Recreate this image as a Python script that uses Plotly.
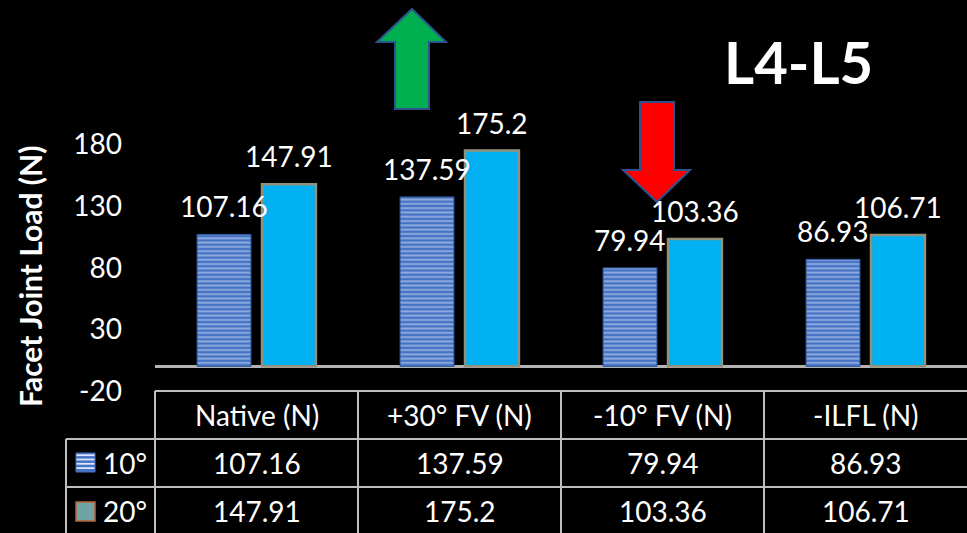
import plotly.graph_objects as go

# ---- data ----
categories = ["Native (N)", "+30° FV (N)", "-10° FV (N)", "-ILFL (N)"]
series_names = ["10°", "20°"]
load_10 = [107.16, 137.59, 79.94, 86.93]
load_20 = [147.91, 175.2, 103.36, 106.71]
y_ticks = [180, 130, 80, 30, -20]

# ---- canvas geometry (pixels) ----
W, H = 967, 533
PLOT_X0, PLOT_X1 = 155, 967
Y_BOTTOM_PX, Y_TOP_PX = 391, 120          # pixel rows for y = -20 and y = 200
TABLE_TOP, ROW1, ROW2, TABLE_BOT = 391, 439, 487, 535
LEGEND_X0 = 66
FONT = "Lato"
TEXT_SIZE = 28
WHITE = "#FFFFFF"
GRID = "#BFBFBF"


def px(x):
    return x / W


def py(y):
    return 1 - y / H


col_w = (PLOT_X1 - PLOT_X0) / len(categories)

fig = go.Figure()

fig.add_trace(go.Bar(
    x=categories, y=load_10, name=series_names[0],
    marker=dict(
        color="#4472C4",
        pattern=dict(shape="-", fgcolor="#DCE6F7", bgcolor="#4472C4",
                     size=4.3, solidity=0.45, fillmode="overlay"),
        line=dict(color="#2F5597", width=1),
    ),
    showlegend=False, hoverinfo="skip",
))
fig.add_trace(go.Bar(
    x=categories, y=load_20, name=series_names[1],
    marker=dict(color="#00B0F0", line=dict(color="#93907C", width=2.5)),
    showlegend=False, hoverinfo="skip",
))

annotations = []
shapes = []


def label(x, y, text, size=TEXT_SIZE, **kw):
    annotations.append(dict(
        x=x, y=y, xref="paper", yref="paper", xanchor=kw.pop("xanchor", "center"),
        yanchor="middle", showarrow=False, text=text,
        font=dict(family=FONT, size=size, color=WHITE), **kw,
    ))


# value labels above each bar
bar_offset = 32.5
for series, shift in ((load_10, -bar_offset), (load_20, bar_offset)):
    for cat, val in zip(categories, series):
        annotations.append(dict(
            x=cat, y=val, xref="x", yref="y", xshift=shift, yshift=9,
            xanchor="center", yanchor="bottom", showarrow=False, text=f"{val:g}",
            font=dict(family=FONT, size=TEXT_SIZE, color=WHITE),
        ))

# data table: header row with category names
for i, cat in enumerate(categories):
    cx = PLOT_X0 + col_w * (i + 0.5)
    label(px(cx), py((TABLE_TOP + ROW1) / 2), cat)

# data table: value rows
for r, (name, series) in enumerate(zip(series_names, (load_10, load_20))):
    top = ROW1 if r == 0 else ROW2
    bot = ROW2 if r == 0 else TABLE_BOT
    cy = (top + bot) / 2
    label(px(101), py(cy), name, xanchor="left")
    for i, val in enumerate(series):
        cx = PLOT_X0 + col_w * (i + 0.5)
        label(px(cx), py(cy), f"{val:g}")


# table grid lines
def hline(y, x0, x1):
    shapes.append(dict(type="line", xref="paper", yref="paper",
                       x0=px(x0), x1=px(x1), y0=py(y), y1=py(y),
                       line=dict(color=GRID, width=2)))


def vline(x, y0, y1):
    shapes.append(dict(type="line", xref="paper", yref="paper",
                       x0=px(x), x1=px(x), y0=py(y0), y1=py(y1),
                       line=dict(color=GRID, width=2)))


hline(TABLE_TOP, PLOT_X0, W + 2)
hline(ROW1, LEGEND_X0, W + 2)
hline(ROW2, LEGEND_X0, W + 2)
vline(LEGEND_X0, ROW1, H + 2)
for i in range(len(categories)):
    vline(PLOT_X0 + col_w * i, TABLE_TOP, H + 2)

# legend keys inside the table
k0, k1 = 76, 95
shapes.append(dict(type="rect", xref="paper", yref="paper",
                   x0=px(k0), x1=px(k1), y0=py(472), y1=py(453),
                   fillcolor="#4472C4", line=dict(color="#4472C4", width=1)))
yy = 455.2
while yy < 471:
    shapes.append(dict(type="line", xref="paper", yref="paper",
                       x0=px(k0 + 0.5), x1=px(k1 - 0.5), y0=py(yy), y1=py(yy),
                       line=dict(color="#DCE6F7", width=1.8)))
    yy += 4.3
shapes.append(dict(type="rect", xref="paper", yref="paper",
                   x0=px(k0), x1=px(k1), y0=py(521), y1=py(502),
                   fillcolor="#6FA3A6", line=dict(color="#B5653A", width=1.5)))


# direction arrows
def arrow_path(points):
    return "M " + " L ".join(f"{px(x):.5f},{py(y):.5f}" for x, y in points) + " Z"


up_arrow = [(412, 9), (446, 42), (429, 42), (429, 109), (395, 109), (395, 42), (377, 42)]
down_arrow = [(657, 202), (690, 170), (674, 170), (674, 102), (640, 102), (640, 170), (623, 170)]
shapes.append(dict(type="path", xref="paper", yref="paper", path=arrow_path(up_arrow),
                   fillcolor="#00B050", line=dict(color="#2F528F", width=2)))
shapes.append(dict(type="path", xref="paper", yref="paper", path=arrow_path(down_arrow),
                   fillcolor="#FF0000", line=dict(color="#2F528F", width=2)))

# title and axis title
label(px(798), py(61), "<b>L4-L5</b>", size=58)
label(px(30), py(277), "<b>Facet Joint Load (N)</b>", size=30, textangle=-90)

fig.update_layout(
    width=W, height=H,
    margin=dict(l=0, r=0, t=0, b=0, pad=0, autoexpand=False),
    paper_bgcolor="#000000", plot_bgcolor="#000000",
    barmode="group", bargap=0.36, bargroupgap=0.17,
    showlegend=False,
    xaxis=dict(domain=[px(PLOT_X0), px(PLOT_X1)], range=[-0.5, 3.5],
               showticklabels=False, showgrid=False, zeroline=False,
               showline=False, ticks="", automargin=False),
    yaxis=dict(domain=[py(Y_BOTTOM_PX), py(Y_TOP_PX)], range=[-20, 200],
               tickvals=y_ticks, ticktext=[str(v) for v in y_ticks],
               tickfont=dict(family=FONT, size=TEXT_SIZE, color=WHITE),
               ticklabelstandoff=32, automargin=False,
               showgrid=False, showline=False, ticks="",
               zeroline=True, zerolinecolor="#B4B4B4", zerolinewidth=3),
    annotations=annotations,
    shapes=shapes,
)

fig.write_html("out.html")
